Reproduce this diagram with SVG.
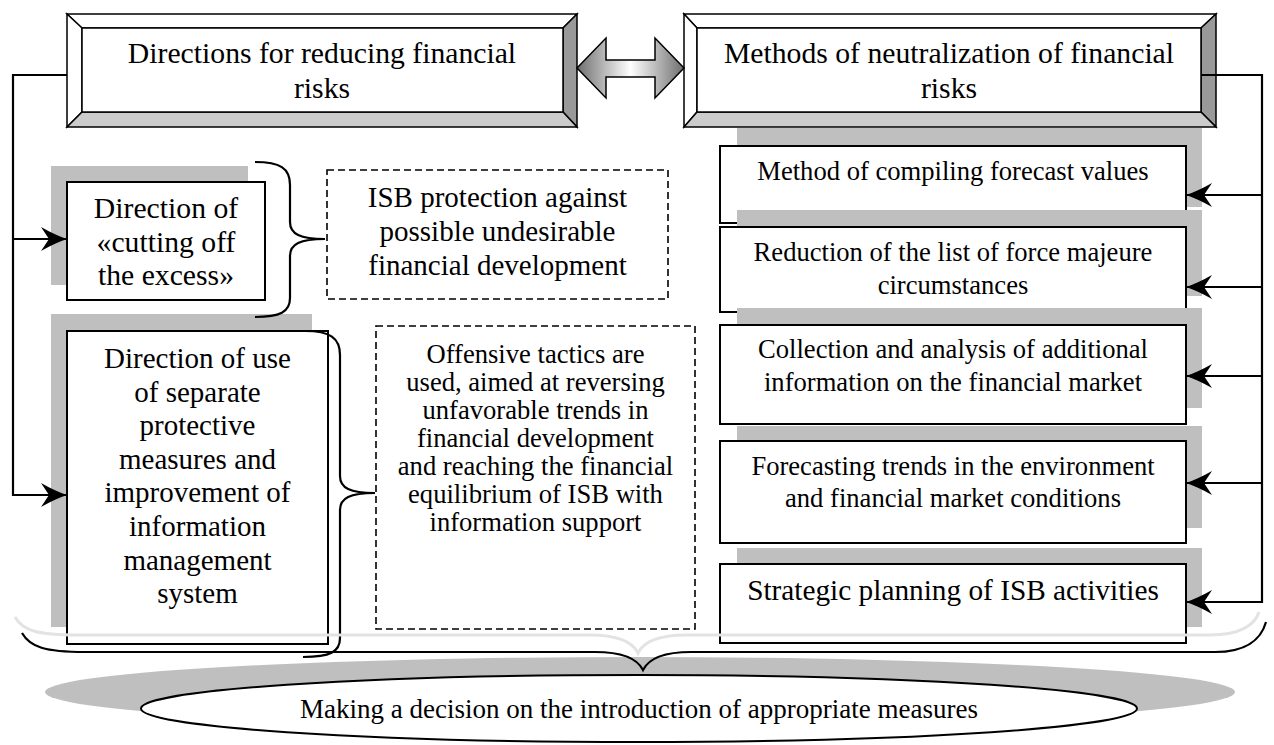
<svg xmlns="http://www.w3.org/2000/svg" width="1274" height="745" viewBox="0 0 1274 745">
<style>
.box{fill:#fff;stroke:#000;stroke-width:2}
.shd{fill:#bfbfbf}
.dash{fill:#fff;stroke:#000;stroke-width:1.6;stroke-dasharray:7 4}
.conn{fill:none;stroke:#000;stroke-width:2.2}
.brace{fill:none;stroke:#000;stroke-width:2.2}
.bev{stroke:#000;stroke-width:1.5;stroke-linejoin:miter}
text{font-family:"Liberation Serif","Times New Roman",serif;fill:#000;text-anchor:middle}
.t30{font-size:29.7px}
.t29{font-size:29px}
.t27{font-size:26.6px}
.ts{font-size:29.3px}
.tb{font-size:27px}
</style>
<defs>
<linearGradient id="ag" x1="0" y1="0" x2="1" y2="0">
<stop offset="0" stop-color="#6e6e6e"/>
<stop offset="0.5" stop-color="#ffffff"/>
<stop offset="1" stop-color="#6e6e6e"/>
</linearGradient>
<marker id="ah" viewBox="-28 -14 30 28" refX="0" refY="0" markerWidth="30" markerHeight="28" markerUnits="userSpaceOnUse" orient="auto">
<path d="M0,0 Q-12,-4 -26,-12 L-18,0 L-26,12 Q-12,4 0,0 Z" fill="#000"/>
</marker>
</defs>

<!-- bottom ellipse -->
<g id="decision">
<ellipse cx="640" cy="692" rx="595" ry="35" fill="#bfbfbf"/>
<ellipse cx="639" cy="708.5" rx="498" ry="33.5" fill="#fff" stroke="#000" stroke-width="2"/>
<text class="tb" x="639" y="718">Making a decision on the introduction of appropriate measures</text>
</g>

<!-- headers -->
<g id="hdr-left">
<polygon class="bev" points="67,14 577,14 563,28 82,28" fill="#fff"/>
<polygon class="bev" points="67,14 82,28 82,112 67,127" fill="#fff"/>
<polygon class="bev" points="577,14 577,127 563,112 563,28" fill="#999"/>
<polygon class="bev" points="67,127 82,112 563,112 577,127" fill="#cccccc"/>
<rect x="82" y="28" width="481" height="84" fill="#fff" stroke="#000" stroke-width="1.5"/>
<text class="t30" x="322" y="63">Directions for reducing financial</text>
<text class="t30" x="322" y="98">risks</text>
</g>
<g id="hdr-right">
<polygon class="bev" points="684,14 1216,14 1201,28 697,28" fill="#fff"/>
<polygon class="bev" points="684,14 697,28 697,112 684,127" fill="#fff"/>
<polygon class="bev" points="1216,14 1216,127 1201,112 1201,28" fill="#999"/>
<polygon class="bev" points="684,127 697,112 1201,112 1216,127" fill="#cccccc"/>
<rect x="697" y="28" width="504" height="84" fill="#fff" stroke="#000" stroke-width="1.5"/>
<text class="t30" x="949" y="63">Methods of neutralization of financial</text>
<text class="t30" x="949" y="98">risks</text>
</g>
<g id="double-arrow">
<polygon points="577,68 606,38 606,60 655,60 655,38 684,68 655,98 655,77 606,77 606,98" fill="url(#ag)" stroke="#000" stroke-width="1.5"/>
</g>

<!-- left boxes -->
<g id="dir-cut">
<rect class="shd" x="51" y="166" width="197" height="119"/>
<rect class="box" x="67" y="182" width="198" height="118"/>
<text class="t30" x="166" y="218">Direction of</text>
<text class="t30" x="166" y="252">«cutting off</text>
<text class="t30" x="166" y="285">the excess»</text>
</g>
<g id="dir-use">
<rect class="shd" x="51" y="314" width="261" height="313"/>
<rect class="box" x="67" y="331" width="261" height="313"/>
<text class="t29" x="197.5" y="368">Direction of use</text>
<text class="t29" x="197.5" y="401.5">of separate</text>
<text class="t29" x="197.5" y="435">protective</text>
<text class="t29" x="197.5" y="468.5">measures and</text>
<text class="t29" x="197.5" y="502">improvement of</text>
<text class="t29" x="197.5" y="536">information</text>
<text class="t29" x="197.5" y="570">management</text>
<text class="t29" x="197.5" y="603">system</text>
</g>
<g id="isb-protection">
<rect class="dash" x="327" y="170" width="341" height="129"/>
<text class="t29" x="497.5" y="207">ISB protection against</text>
<text class="t29" x="497.5" y="241">possible undesirable</text>
<text class="t29" x="497.5" y="275">financial development</text>
</g>
<g id="offensive">
<rect class="dash" x="376" y="326" width="319" height="303"/>
<text class="t27" x="535.5" y="363">Offensive tactics are</text>
<text class="t27" x="535.5" y="391">used, aimed at reversing</text>
<text class="t27" x="535.5" y="419">unfavorable trends in</text>
<text class="t27" x="535.5" y="447">financial development</text>
<text class="t27" x="535.5" y="475">and reaching the financial</text>
<text class="t27" x="535.5" y="503">equilibrium of ISB with</text>
<text class="t27" x="535.5" y="531">information support</text>
</g>

<!-- right boxes -->
<g id="m1">
<rect class="shd" x="737" y="128" width="465" height="79"/>
<rect class="box" x="720" y="146" width="466" height="77"/>
<text class="t27" x="953" y="180">Method of compiling forecast values</text>
</g>
<g id="m2">
<rect class="shd" x="737" y="210" width="465" height="86"/>
<rect class="box" x="720" y="227" width="466" height="85"/>
<text class="t27" x="953" y="261">Reduction of the list of force majeure</text>
<text class="t27" x="953" y="293.5">circumstances</text>
</g>
<g id="m3">
<rect class="shd" x="737" y="308" width="465" height="100"/>
<rect class="box" x="720" y="325" width="466" height="99"/>
<text class="t27" x="953" y="358">Collection and analysis of additional</text>
<text class="t27" x="953" y="391">information on the financial market</text>
</g>
<g id="m4">
<rect class="shd" x="737" y="426" width="465" height="102"/>
<rect class="box" x="720" y="441" width="466" height="102"/>
<text class="t27" x="953" y="475">Forecasting trends in the environment</text>
<text class="t27" x="953" y="507">and financial market conditions</text>
</g>
<g id="m5">
<rect class="shd" x="737" y="548" width="465" height="79"/>
<rect class="box" x="720" y="564" width="466" height="79"/>
<text class="ts" x="953" y="600">Strategic planning of ISB activities</text>
</g>

<!-- braces -->
<g id="braces">
<path class="brace" d="M255,162 C280,162 290,168 290,185 L290,222 C290,234 300,239 325,239 C300,239 290,244 290,256 L290,298 C290,312 280,317 255,317"/>
<path class="brace" d="M305,331 C330,331 340,338 340,355 L340,476 C340,488 350,493 375,493 C350,493 340,498 340,510 L340,638 C340,652 330,657 303,657"/>
<path class="brace" d="M22,633 C30,647 45,652 85,652 L595,652 C625,652 638,660 643,670 C648,660 661,652 691,652 L1215,652 C1245,652 1261,640 1266,622"/>
<path d="M15,617 C23,631 38,635 78,635 L590,635 C620,635 633,643 638,653 C643,643 656,635 686,635 L1210,635 C1240,635 1255,625 1259,612" fill="none" stroke="#e3e3e3" stroke-width="3"/>
</g>

<!-- connectors -->
<g id="connectors">
<path class="conn" d="M67,75 H13 V495 H67" marker-end="url(#ah)"/>
<path class="conn" d="M13,239 H67" marker-end="url(#ah)"/>
<path class="conn" d="M1201,75 H1262 V602 H1186" marker-end="url(#ah)"/>
<path class="conn" d="M1262,195 H1186" marker-end="url(#ah)"/>
<path class="conn" d="M1262,287 H1186" marker-end="url(#ah)"/>
<path class="conn" d="M1262,376 H1186" marker-end="url(#ah)"/>
<path class="conn" d="M1262,483 H1186" marker-end="url(#ah)"/>
</g>
</svg>
